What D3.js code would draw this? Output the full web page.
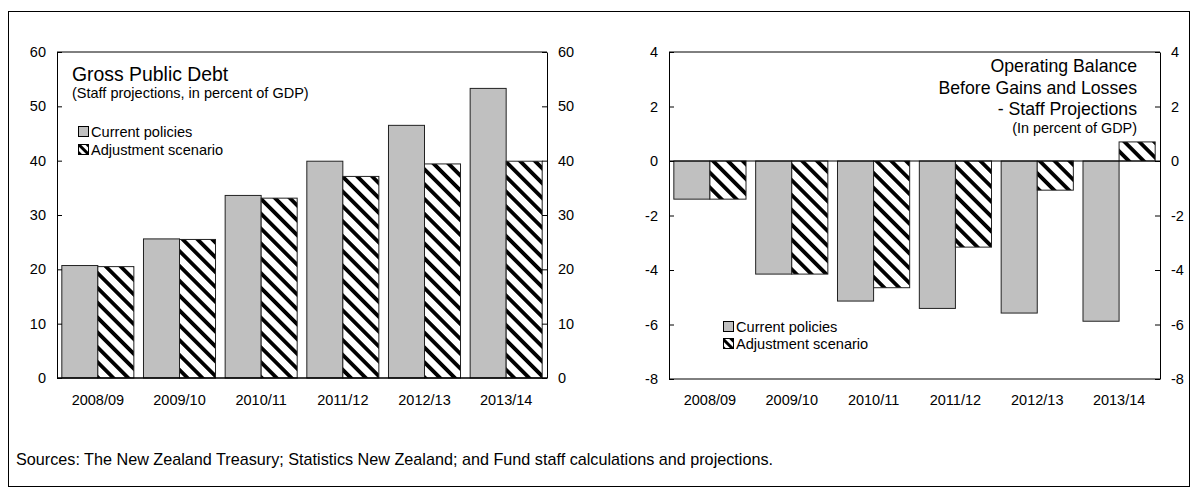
<!DOCTYPE html>
<html><head><meta charset="utf-8">
<script src="https://cdn.jsdelivr.net/npm/d3@7"></script>
<style>
html,body{margin:0;padding:0;background:#fff;}
svg{display:block;font-family:"Liberation Sans",Arial,sans-serif;}
</style></head>
<body>
<svg id="chart" width="1198" height="497"></svg>
<script>
const categories = ["2008/09","2009/10","2010/11","2011/12","2012/13","2013/14"];
const seriesNames = ["Current policies","Adjustment scenario"];
const debtCurrent = [20.7, 25.6, 33.6, 39.9, 46.5, 53.3];
const debtAdjust  = [20.5, 25.5, 33.1, 37.1, 39.4, 39.9];
const balCurrent  = [-1.4, -4.15, -5.14, -5.41, -5.58, -5.88];
const balAdjust   = [-1.4, -4.15, -4.65, -3.16, -1.07, 0.7];
const debtTicks = [0,10,20,30,40,50,60];
const balTicks  = [-8,-6,-4,-2,0,2,4];
const sourceText = "Sources: The New Zealand Treasury; Statistics New Zealand; and Fund staff calculations and projections.";

const svg = d3.select("#chart");
const defs = svg.append("defs");
const pat = defs.append("pattern").attr("id","hatch")
  .attr("patternUnits","userSpaceOnUse").attr("width",10.5).attr("height",10.5)
  .attr("patternTransform","rotate(-45)");
pat.append("rect").attr("width",10.5).attr("height",10.5).attr("fill","#fff");
pat.append("rect").attr("x",0).attr("y",0).attr("width",3.8).attr("height",10.5).attr("fill","#000");

const pat2 = defs.append("pattern").attr("id","hatchLeg")
  .attr("patternUnits","userSpaceOnUse").attr("width",6).attr("height",6)
  .attr("patternTransform","rotate(-45)");
pat2.append("rect").attr("width",6).attr("height",6).attr("fill","#fff");
pat2.append("rect").attr("width",3).attr("height",6).attr("fill","#000");

// outer frame
svg.append("rect").attr("x",8.5).attr("y",11.5).attr("width",1181).attr("height",475)
  .attr("fill","none").attr("stroke","#000").attr("stroke-width",1);

const fills = ["#c0c0c0","url(#hatch)"];
const fmt = d => String(d);

function panel(cfg){
  const g = svg.append("g");
  const x0 = d3.scaleBand().domain(categories).range([cfg.left,cfg.right]).paddingInner(0.118).paddingOuter(0.059);
  const x1 = d3.scaleBand().domain([0,1]).range([0,x0.bandwidth()]);
  const y = d3.scaleLinear().domain(cfg.domain).range([cfg.bottom,cfg.top]);
  const data = categories.map((c,i)=>({c, v:[cfg.s1[i], cfg.s2[i]]}));
  data.forEach(d=>{
    d.v.forEach((v,k)=>{
      g.append("rect")
        .attr("x", x0(d.c)+x1(k))
        .attr("width", x1.bandwidth())
        .attr("y", y(Math.max(0,v)))
        .attr("height", Math.abs(y(v)-y(0)))
        .attr("fill", fills[k])
        .attr("stroke","#222").attr("stroke-width",1);
    });
  });
  const la = d3.axisLeft(y).tickValues(cfg.ticks).tickSizeInner(-5).tickSizeOuter(0).tickPadding(11).tickFormat(fmt);
  const ra = d3.axisRight(y).tickValues(cfg.ticks).tickSizeInner(-5).tickSizeOuter(0).tickPadding(11).tickFormat(fmt);
  const gl = g.append("g").attr("transform",`translate(${cfg.left},0)`).call(la);
  const gr = g.append("g").attr("transform",`translate(${cfg.right},0)`).call(ra);
  [gl,gr].forEach(a=>{
    a.selectAll("text").attr("font-size",14.5).attr("fill","#000").attr("font-family","Liberation Sans, Arial, sans-serif");
    a.selectAll("line").attr("stroke","#000");
    a.select(".domain").attr("stroke","#000");
  });
  g.append("line").attr("x1",cfg.left).attr("x2",cfg.right).attr("y1",cfg.top).attr("y2",cfg.top).attr("stroke","#000");
  g.append("line").attr("x1",cfg.left).attr("x2",cfg.right).attr("y1",cfg.bottom).attr("y2",cfg.bottom).attr("stroke","#000");
  g.append("line").attr("x1",cfg.left).attr("x2",cfg.right).attr("y1",y(0)).attr("y2",y(0)).attr("stroke","#000");
  const xa = d3.axisBottom(x0).tickSize(0).tickPadding(0);
  const gx = g.append("g").attr("transform",`translate(0,${cfg.bottom})`).call(xa);
  gx.select(".domain").remove();
  gx.selectAll("text").attr("font-size",14.5).attr("fill","#000").attr("dy",null).attr("y",cfg.labelY - cfg.bottom)
    .attr("font-family","Liberation Sans, Arial, sans-serif");
  seriesNames.forEach((n,k)=>{
    const ly = cfg.legY[k];
    g.append("rect").attr("x",cfg.legX+0.5).attr("y",ly-10.5).attr("width",10).attr("height",10)
      .attr("fill", k===0? "#c0c0c0" : "url(#hatchLeg)")
      .attr("stroke","#000").attr("stroke-width",1);
    g.append("text").attr("x",cfg.legX+13).attr("y",ly).attr("font-size",14.6).text(n);
  });
  return {g, x0, y};
}

const p1 = panel({left:57, right:547, top:52, bottom:378, domain:[0,60], ticks:debtTicks,
  s1:debtCurrent, s2:debtAdjust, labelY:405, legX:78, legY:[137,155]});
p1.g.append("text").attr("x",72).attr("y",81).attr("font-size",19.4).text("Gross Public Debt");
p1.g.append("text").attr("x",72).attr("y",98).attr("font-size",14.5).text("(Staff projections, in percent of GDP)");

const p2 = panel({left:669, right:1160, top:52, bottom:379, domain:[-8,4], ticks:balTicks,
  s1:balCurrent, s2:balAdjust, labelY:405, legX:723, legY:[332,349]});
const titleLines = ["Operating Balance","Before Gains and Losses","- Staff Projections"];
titleLines.forEach((t,i)=>{
  p2.g.append("text").attr("x",1137).attr("y",72+i*21.7).attr("text-anchor","end").attr("font-size",17.7).text(t);
});
p2.g.append("text").attr("x",1137).attr("y",133).attr("text-anchor","end").attr("font-size",14.4).text("(In percent of GDP)");

svg.append("text").attr("x",16).attr("y",465).attr("font-size",16.2).text(sourceText);
</script>
</body></html>
